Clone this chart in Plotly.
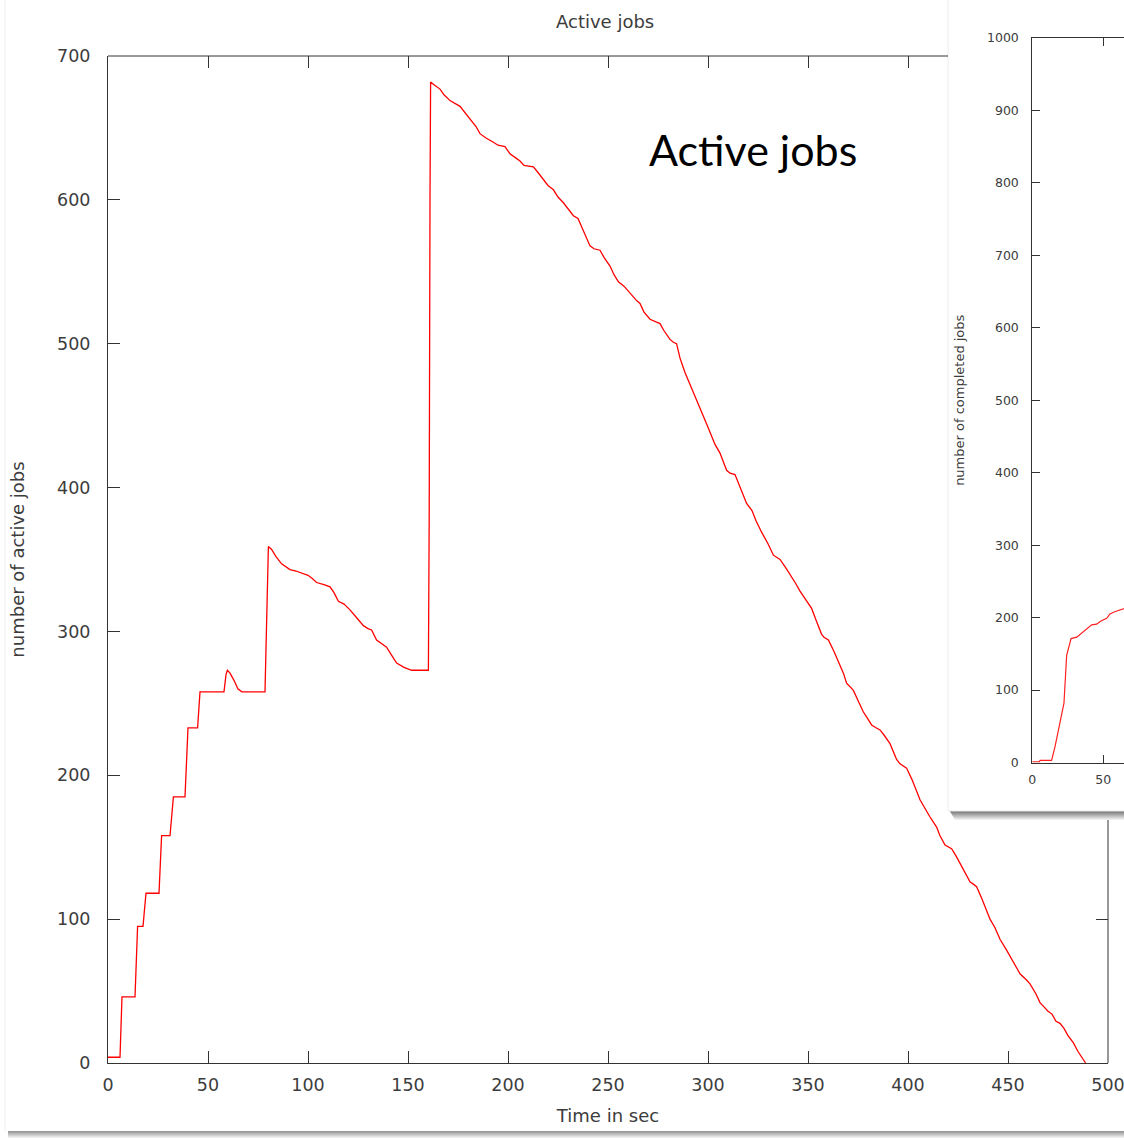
import plotly.graph_objects as go

# ---------------- data ----------------
active_time = [0, 6, 6.5, 7, 13.5, 14.2, 14.8, 17.5, 18.3, 19, 25.5, 26.2, 26.8, 31, 32, 32.7,
               38.5, 39.3, 40, 44.8, 45.5, 46, 58, 59, 59.7, 61, 63, 65, 67, 78.5, 79.2, 79.7,
               80.2, 81.8, 84, 86.8, 91, 94, 97.7, 100, 102, 104.3, 108, 111, 113, 115.2, 118,
               121, 124, 127.7, 130, 131.8, 134.3, 137, 139.3, 142, 144.3, 148, 151.8, 160.2,
               160.6, 161, 161.3, 163, 166, 168, 171, 176, 180, 184, 186, 189, 192.7, 195, 198.5,
               201, 204, 206, 208, 212.7, 215, 217.7, 220, 222.7, 225, 227.7, 230, 232.7, 235,
               237.7, 239, 241, 243, 246, 248, 251, 253, 255.2, 258, 261, 264.3, 266, 268, 271,
               274, 276, 278, 281, 282.7, 284.3, 286, 288.5, 291.8, 294, 297.7, 300, 303.5, 306,
               309.3, 311, 313.5, 316, 319.3, 322, 324, 326.8, 330, 332.7, 336, 339, 341.8, 344,
               346, 349, 351.8, 354, 356.8, 358, 360.2, 363, 365, 367.7, 369.3, 372.7, 375, 377.7,
               380, 381.8, 384, 386, 388, 391, 394.3, 396, 399.3, 402, 406, 408, 411, 414.3, 416,
               418.5, 421.8, 424, 426, 428, 431, 433, 434.3, 437, 439.3, 441, 443.5, 446, 449.3,
               452, 454, 456, 459, 461, 464, 466, 468, 470, 472, 474, 476, 478, 480, 482.7, 485,
               488.8]
active_jobs = [4, 4, 25, 46, 46, 70, 95, 95, 108, 118, 118, 140, 158, 158, 172, 185,
               185, 210, 233, 233, 245, 258, 258, 270, 273, 271, 266, 260, 258, 258, 300, 340,
               359, 357, 352, 347, 343, 342, 340, 339, 337, 334, 332.5, 331, 327, 321, 319,
               315, 310, 304, 302, 301, 294, 291, 289, 283, 278, 275, 273, 273,
               380, 600, 682, 680, 677, 673, 669, 665, 658, 651, 646, 643, 640, 638, 637,
               632, 629, 627, 624, 623, 619, 614, 610, 607, 602, 598, 594, 589, 587,
               579, 574, 568, 566, 565, 560, 554, 548, 543, 540, 535, 530, 528, 522, 517,
               515, 514, 509, 503, 501, 500, 490, 480, 469, 462, 449, 442, 430, 424,
               412, 410, 409, 400, 389, 384, 377, 369, 361, 353, 350, 344, 338, 333,
               328, 322, 316, 308, 298, 296, 294, 286, 280, 271, 264, 259, 252, 244,
               239, 235, 233, 231.5, 228, 222, 211, 208, 205, 197, 183, 178, 171, 164, 158,
               151.5, 149, 144, 139, 133, 126, 124, 122.6, 114, 106, 100, 94, 86, 78.5,
               72, 67, 62, 58, 55, 48, 42, 39, 36, 34, 29, 27.6, 24, 19, 14, 8,
               0]

completed_time = [0, 5, 5.5, 13.6, 16, 19.5, 22.3, 24.2, 27.3, 31.3, 35.9, 41.8, 45.3, 48,
                  52.4, 54.7, 58, 61.8, 64.6, 70]
completed_jobs = [1, 1, 3, 3, 22, 54, 82, 148, 171, 173, 181, 190, 191, 195,
                  199, 205, 208, 210.5, 212, 216]

main_xticks = [0, 50, 100, 150, 200, 250, 300, 350, 400, 450, 500]
main_yticks = [0, 100, 200, 300, 400, 500, 600, 700]
top_visible_ticks = [0, 50, 100, 150, 200, 250, 300, 350, 400]
right_visible_ticks = [0, 100]
inset_xticks = [0, 50]
inset_yticks = [0, 100, 200, 300, 400, 500, 600, 700, 800, 900, 1000]

# ---------------- geometry (pixels) ----------------
W, H = 1124, 1138


def px(x):
    return x / W


def py(y):
    return 1 - y / H


MAIN_L, MAIN_R, MAIN_T, MAIN_B = 108, 1108, 56, 1063
INS_BOX_L, INS_BOX_B = 948, 811
INS_L, INS_T, INS_B = 1032.3, 38, 762.5
INS_XSCALE = 1.42  # px per unit

AX = '#333333'
TXT = '#3c3c3c'
FONT = 'DejaVu Sans'

fig = go.Figure()

fig.add_trace(go.Scatter(x=active_time, y=active_jobs, mode='lines',
                         line=dict(color='#ff0000', width=1.3),
                         xaxis='x', yaxis='y', showlegend=False, hoverinfo='skip'))
fig.add_trace(go.Scatter(x=completed_time, y=completed_jobs, mode='lines',
                         line=dict(color='#ff2020', width=1.2),
                         xaxis='x2', yaxis='y2', showlegend=False, hoverinfo='skip'))
# helpers to show mirrored ticks on main plot
fig.add_trace(go.Scatter(x=[None], y=[None], xaxis='x3', yaxis='y', showlegend=False,
                         hoverinfo='skip'))
fig.add_trace(go.Scatter(x=[None], y=[None], xaxis='x', yaxis='y3', showlegend=False,
                         hoverinfo='skip'))

shapes = []
# whole-picture shadow / border
for i in range(7):
    c = int(150 + i * 15)
    shapes.append(dict(type='rect', xref='paper', yref='paper',
                       x0=px(8), x1=px(W), y0=py(1131 + i), y1=py(1132 + i),
                       fillcolor=f'rgb({c},{c},{c})', line=dict(width=0), layer='below'))
shapes.append(dict(type='line', xref='paper', yref='paper', x0=px(5), x1=px(5),
                   y0=py(0), y1=py(1131), line=dict(color='#eeeeee', width=1), layer='below'))
# inset shadow
for i in range(9):
    c = int(120 + i * 15)
    shapes.append(dict(type='rect', xref='paper', yref='paper',
                       x0=px(INS_BOX_L + 2 + i * 0.6), x1=px(W),
                       y0=py(INS_BOX_B + i), y1=py(INS_BOX_B + i + 1),
                       fillcolor=f'rgb({c},{c},{c})', line=dict(width=0), layer='below'))
# inset white box
shapes.append(dict(type='rect', xref='paper', yref='paper',
                   x0=px(INS_BOX_L), x1=px(W + 2), y0=py(INS_BOX_B), y1=py(-2),
                   fillcolor='white', line=dict(color='#ececec', width=1), layer='below'))
# visible parts of main frame (top and right)
shapes.append(dict(type='line', xref='paper', yref='paper',
                   x0=px(MAIN_L), x1=px(INS_BOX_L), y0=py(MAIN_T), y1=py(MAIN_T),
                   line=dict(color=AX, width=1)))
shapes.append(dict(type='line', xref='paper', yref='paper',
                   x0=px(MAIN_R), x1=px(MAIN_R), y0=py(INS_BOX_B + 9), y1=py(MAIN_B),
                   line=dict(color=AX, width=1)))

tickfont = dict(family=FONT, size=17.5, color=TXT)
ins_tickfont = dict(family=FONT, size=12.5, color=TXT)

fig.update_layout(
    width=W, height=H,
    margin=dict(l=0, r=0, t=0, b=0, autoexpand=False),
    paper_bgcolor='white', plot_bgcolor='rgba(0,0,0,0)',
    hovermode=False,
    shapes=shapes,
    xaxis=dict(domain=[px(MAIN_L), px(MAIN_R)], range=[0, 500], anchor='y', automargin=False,
               tickvals=main_xticks, ticktext=[str(v) for v in main_xticks],
               ticks='inside', ticklen=12, tickcolor=AX, tickwidth=1,
               showline=True, linecolor=AX, linewidth=1, mirror=False,
               showgrid=False, zeroline=False, tickfont=tickfont,
               ticklabelstandoff=6, ticklabeloverflow='allow',
               title=dict(text='Time in sec', font=dict(family=FONT, size=18, color=TXT),
                          standoff=15)),
    yaxis=dict(domain=[py(MAIN_B), py(MAIN_T)], range=[0, 700], anchor='x', automargin=False,
               tickvals=main_yticks, ticktext=[str(v) for v in main_yticks],
               ticks='inside', ticklen=12, tickcolor=AX, tickwidth=1,
               showline=True, linecolor=AX, linewidth=1, mirror=False,
               showgrid=False, zeroline=False, tickfont=tickfont,
               ticklabelstandoff=13,
               title=dict(text='number of active jobs', font=dict(family=FONT, size=18, color=TXT),
                          standoff=27)),
    xaxis3=dict(overlaying='x', side='top', anchor='y', range=[0, 500], automargin=False,
                tickvals=top_visible_ticks, ticks='inside', ticklen=12, tickcolor=AX,
                showticklabels=False, showline=False, showgrid=False, zeroline=False),
    yaxis3=dict(overlaying='y', side='right', anchor='x', range=[0, 700], automargin=False,
                tickvals=right_visible_ticks, ticks='inside', ticklen=12, tickcolor=AX,
                showticklabels=False, showline=False, showgrid=False, zeroline=False),
    xaxis2=dict(domain=[px(INS_L), 1.0], range=[0, (W - INS_L) / INS_XSCALE], anchor='y2',
                automargin=False,
                tickvals=inset_xticks, ticks='inside', ticklen=8, tickcolor=AX,
                showline=True, linecolor=AX, linewidth=1, mirror='ticks',
                showgrid=False, zeroline=False, tickfont=ins_tickfont,
                ticklabelstandoff=5),
    yaxis2=dict(domain=[py(INS_B), py(INS_T)], range=[0, 1000], anchor='x2', automargin=False,
                tickvals=inset_yticks, ticks='inside', ticklen=8, tickcolor=AX,
                showline=True, linecolor=AX, linewidth=1, mirror=False,
                showgrid=False, zeroline=False, tickfont=ins_tickfont,
                ticklabelstandoff=10,
                title=dict(text='number of completed jobs',
                           font=dict(family=FONT, size=13, color=TXT), standoff=19)),
    annotations=[
        dict(text='Active jobs', xref='paper', yref='paper',
             x=px((MAIN_L + MAIN_R) / 2 - 3), y=py(21), xanchor='center', yanchor='middle',
             showarrow=False, font=dict(family=FONT, size=18, color=TXT)),
        dict(text='Active jobs', xref='paper', yref='paper',
             x=px(753), y=py(149), xanchor='center', yanchor='middle',
             showarrow=False, font=dict(family='Lato', size=43, color='black')),
    ],
)

fig.write_html('out.html', config={'displayModeBar': False, 'staticPlot': True},
               post_script="document.body.style.margin='0';document.body.style.overflow='hidden';")
